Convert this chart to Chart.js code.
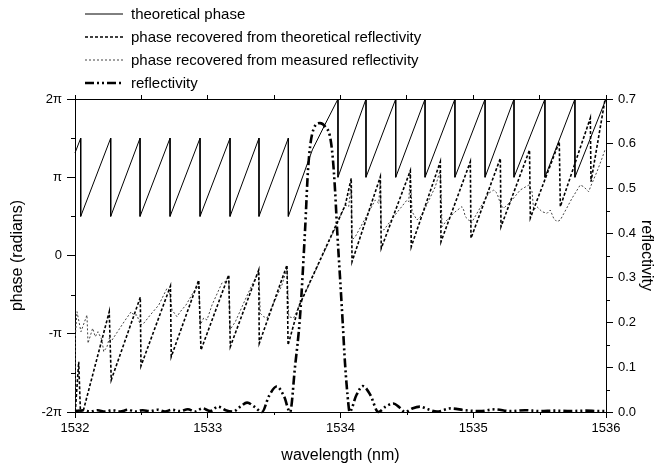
<!DOCTYPE html>
<html><head><meta charset="utf-8">
<script src="https://cdn.jsdelivr.net/npm/chart.js@4.4.1/dist/chart.umd.min.js"></script>
<style>html,body{margin:0;padding:0;background:#fff;}#wrap{width:660px;height:471px;}</style>
</head><body><div id="wrap"><canvas id="c" width="660" height="471"></canvas></div>
<script>
// ---- data (wavelength in nm, phase in units of pi, reflectivity 0..1) ----
const seriesLabels = ['theoretical phase', 'phase recovered from theoretical reflectivity', 'phase recovered from measured reflectivity', 'reflectivity'];
const xTickLabels = ['1532', '1533', '1534', '1535', '1536'];
const phaseTickLabels = ['-2\u03c0', '-\u03c0', '0', '\u03c0', '2\u03c0'];
const reflTickLabels = ['0.0', '0.1', '0.2', '0.3', '0.4', '0.5', '0.6', '0.7'];

const theoWl = [1532.000, 1532.043, 1532.043, 1532.269, 1532.269, 1532.490, 1532.490, 1532.716, 1532.716, 1532.942, 1532.942, 1533.168, 1533.168, 1533.386, 1533.386, 1533.607, 1533.607, 1533.788, 1533.885, 1533.981, 1533.981, 1534.192, 1534.192, 1534.416, 1534.416, 1534.637, 1534.637, 1534.862, 1534.862, 1535.089, 1535.089, 1535.307, 1535.307, 1535.540, 1535.540, 1535.766, 1535.766, 1536.000];
const theoPhase = [1.31, 1.5, 0.5, 1.5, 0.5, 1.5, 0.5, 1.5, 0.5, 1.5, 0.5, 1.5, 0.5, 1.5, 0.5, 1.5, 0.5, 1.35, 1.68, 2.0, 1.0, 2.0, 1.0, 2.0, 1.0, 2.0, 1.0, 2.0, 1.0, 2.0, 1.0, 2.0, 1.0, 2.0, 1.0, 2.0, 1.0, 2.0];

const trWl = [1532.002, 1532.028, 1532.041, 1532.060, 1532.258, 1532.273, 1532.492, 1532.497, 1532.719, 1532.725, 1532.932, 1532.949, 1533.158, 1533.170, 1533.384, 1533.388, 1533.597, 1533.605, 1533.685, 1533.961, 1534.036, 1534.081, 1534.087, 1534.300, 1534.307, 1534.526, 1534.533, 1534.752, 1534.757, 1534.978, 1534.983, 1535.204, 1535.209, 1535.424, 1535.430, 1535.648, 1535.656, 1535.882, 1535.887, 1535.992];
const trPhase = [-2.0, -1.357, -2.0, -2.0, -0.718, -1.591, -0.534, -1.412, -0.39, -1.293, -0.313, -1.208, -0.249, -1.165, -0.185, -1.122, -0.121, -1.144, -0.654, 0.368, 0.645, 0.987, -0.079, 1.007, 0.092, 1.084, 0.112, 1.199, 0.176, 1.199, 0.220, 1.242, 0.368, 1.348, 0.479, 1.454, 0.624, 1.757, 0.943, 1.987];

const mrWl = [1532.000, 1532.002, 1532.015, 1532.045, 1532.090, 1532.098, 1532.133, 1532.153, 1532.173, 1532.203,
  1532.216, 1532.241, 1532.258, 1532.279, 1532.329, 1532.379, 1532.424, 1532.442, 1532.467, 1532.492,
  1532.518, 1532.567, 1532.631, 1532.693, 1532.710, 1532.731, 1532.768, 1532.793, 1532.836, 1532.894,
  1532.919, 1532.932, 1532.944, 1532.969, 1532.994, 1533.032, 1533.107, 1533.132, 1533.158, 1533.168,
  1533.183, 1533.208, 1533.281, 1533.333, 1533.384, 1533.396, 1533.421, 1533.446, 1533.507, 1533.559,
  1533.597, 1533.610, 1533.647, 1533.685, 1533.961, 1534.036, 1534.062, 1534.081, 1534.087, 1534.111,
  1534.147, 1534.262, 1534.288, 1534.300, 1534.307, 1534.326, 1534.411, 1534.501, 1534.514, 1534.526,
  1534.539, 1534.576, 1534.614, 1534.714, 1534.752, 1534.765, 1534.802, 1534.862, 1534.915, 1534.928,
  1534.940, 1534.966, 1534.985, 1535.051, 1535.116, 1535.154, 1535.179, 1535.208, 1535.229, 1535.292,
  1535.354, 1535.418, 1535.443, 1535.455, 1535.480, 1535.518, 1535.556, 1535.580, 1535.606, 1535.631,
  1535.656, 1535.744, 1535.806, 1535.832, 1535.869, 1535.889, 1535.932, 1535.970, 1535.992];
const mrPhase = [-2.000, -1.042, -0.718, -0.974, -0.760, -1.122, -0.930, -1.038, -0.974, -1.080,
  -1.229, -1.166, -1.058, -1.080, -0.952, -0.824, -0.718, -0.760, -0.760, -0.888,
  -0.866, -0.760, -0.633, -0.419, -0.441, -0.696, -0.782, -0.718, -0.633, -0.463,
  -0.415, -0.339, -0.888, -0.799, -0.824, -0.633, -0.351, -0.335, -0.262, -0.952,
  -0.910, -0.846, -0.569, -0.377, -0.211, -0.739, -0.782, -0.799, -0.569, -0.377,
  -0.160, -0.782, -0.799, -0.658, 0.351, 0.645, 0.624, 0.939, 0.198, 0.240,
  0.351, 0.709, 0.667, 0.965, 0.348, 0.326, 0.518, 0.709, 0.688, 1.042,
  0.560, 0.454, 0.518, 0.879, 1.093, 0.368, 0.454, 0.556, 0.624, 0.581,
  0.496, 0.454, 0.412, 0.607, 0.795, 0.837, 0.795, 0.645, 0.603, 0.709,
  0.837, 0.901, 0.815, 0.581, 0.624, 0.560, 0.539, 0.581, 0.475, 0.432,
  0.454, 0.731, 0.901, 0.879, 0.815, 0.901, 1.071, 1.242, 1.348];

const reflWl = [1532.000, 1532.060, 1532.113, 1532.170, 1532.226, 1532.280, 1532.339, 1532.400, 1532.452, 1532.510,
  1532.565, 1532.620, 1532.678, 1532.730, 1532.791, 1532.850, 1532.904, 1532.960, 1533.020, 1533.077,
  1533.135, 1533.190, 1533.245, 1533.296, 1533.350, 1533.409, 1533.460, 1533.519, 1533.575, 1533.620,
  1533.657, 1533.695, 1533.733, 1533.757, 1533.795, 1533.846, 1533.885, 1533.921, 1533.941, 1533.959,
  1533.976, 1533.996, 1534.017, 1534.034, 1534.059, 1534.068, 1534.120, 1534.169, 1534.225, 1534.285,
  1534.340, 1534.398, 1534.445, 1534.486, 1534.540, 1534.599, 1534.660, 1534.727, 1534.830, 1534.938,
  1535.050, 1535.164, 1535.277, 1535.390, 1535.503, 1535.616, 1535.729, 1535.842, 1535.950, 1536.000];
const reflectivity = [0.002, 0.004, 0.001, 0.004, 0.001, 0.004, 0.001, 0.005, 0.001, 0.004,
  0.002, 0.005, 0.001, 0.005, 0.002, 0.006, 0.001, 0.008, 0.002, 0.012,
  0.004, 0.001, 0.012, 0.021, 0.012, 0.000, 0.035, 0.057, 0.035, 0.000,
  0.100, 0.213, 0.407, 0.549, 0.631, 0.646, 0.638, 0.616, 0.571, 0.496,
  0.400, 0.303, 0.198, 0.109, 0.019, 0.000, 0.038, 0.058, 0.038, 0.000,
  0.012, 0.019, 0.010, 0.000, 0.008, 0.012, 0.006, 0.001, 0.008, 0.004,
  0.002, 0.006, 0.002, 0.004, 0.002, 0.003, 0.002, 0.003, 0.002, 0.002];

const xMinor = [1532.5, 1533.5, 1534.5, 1535.5];
const phaseMinor = [-1.5, -0.5, 0.5, 1.5];
const reflMinor = [0.05, 0.15, 0.25, 0.35, 0.45, 0.55, 0.65];

// ---- helpers ----
const pts = (xs, ys) => xs.map((x, i) => ({x: x, y: ys[i]}));
const FONT = "'Liberation Sans', Arial, Helvetica, sans-serif";
Chart.defaults.font.family = FONT;
Chart.defaults.color = '#000';

const stackedLegend = {
  id: 'stackedLegend',
  afterDraw(chart) {
    const ctx = chart.ctx;
    ctx.save();
    ctx.font = '15px ' + FONT;
    ctx.textBaseline = 'middle';
    ctx.textAlign = 'left';
    chart.data.datasets.forEach((ds, i) => {
      const yy = 14 + i * 23;
      ctx.beginPath();
      ctx.setLineDash(ds.borderDash || []);
      ctx.lineWidth = ds.borderWidth;
      ctx.strokeStyle = ds.borderColor;
      ctx.moveTo(85, yy);
      ctx.lineTo(123, yy);
      ctx.stroke();
      ctx.setLineDash([]);
      ctx.fillStyle = '#000';
      ctx.fillText(ds.label, 131, yy + 1);
    });
    ctx.restore();
  }
};

const minorTicks = {
  id: 'minorTicks',
  afterDraw(chart) {
    const ctx = chart.ctx;
    const {x, y, y2} = chart.scales;
    ctx.save();
    ctx.strokeStyle = '#000';
    ctx.lineWidth = 1;
    ctx.beginPath();
    xMinor.forEach(v => { const p = Math.round(x.getPixelForValue(v)) + 0.5; ctx.moveTo(p, x.top); ctx.lineTo(p, x.top + 3); });
    phaseMinor.forEach(v => { const p = Math.round(y.getPixelForValue(v)) + 0.5; ctx.moveTo(y.right, p); ctx.lineTo(y.right - 4, p); });
    reflMinor.forEach(v => { const p = Math.round(y2.getPixelForValue(v)) + 0.5; ctx.moveTo(y2.left, p); ctx.lineTo(y2.left + 4, p); });
    ctx.stroke();
    ctx.restore();
  }
};

new Chart(document.getElementById('c'), {
  type: 'line',
  data: {
    datasets: [
      {label: seriesLabels[0], data: pts(theoWl, theoPhase), yAxisID: 'y', borderColor: '#000', borderWidth: 1, pointRadius: 0, tension: 0, clip: 2},
      {label: seriesLabels[1], data: pts(trWl, trPhase), yAxisID: 'y', borderColor: '#000', borderWidth: 1.6, borderDash: [3, 2], pointRadius: 0, tension: 0},
      {label: seriesLabels[2], data: pts(mrWl, mrPhase), yAxisID: 'y', borderColor: '#444', borderWidth: 1, borderDash: [2, 2], pointRadius: 0, tension: 0},
      {label: seriesLabels[3], data: pts(reflWl, reflectivity), yAxisID: 'y2', borderColor: '#000', borderWidth: 2.6, borderDash: [9, 3, 2, 3, 2, 3], pointRadius: 0, cubicInterpolationMode: 'monotone', clip: 3}
    ]
  },
  options: {
    responsive: false,
    animation: false,
    devicePixelRatio: 1,
    layout: {padding: 0},
    plugins: {legend: {display: false}, tooltip: {enabled: false}},
    scales: {
      x: {
        type: 'linear', position: 'bottom', min: 1532, max: 1536,
        ticks: {stepSize: 1, autoSkip: false, maxRotation: 0, padding: 3, font: {size: 13}, color: '#000',
                callback: (v, i) => xTickLabels[i]},
        grid: {drawOnChartArea: false, tickLength: 6, tickColor: '#000', color: '#000'},
        border: {display: true, color: '#000', width: 1},
        title: {display: true, text: 'wavelength (nm)', font: {size: 16}, color: '#000', padding: {top: 4, bottom: 6}},
        afterFit: s => { s.height = 59; }
      },
      x2: {
        type: 'linear', position: 'top', min: 1532, max: 1536,
        ticks: {display: false, stepSize: 0.5},
        grid: {drawOnChartArea: false, tickLength: 4, tickColor: '#000', color: '#000'},
        border: {display: true, color: '#000', width: 1},
        afterFit: s => { s.height = 99; }
      },
      y: {
        type: 'linear', position: 'left', min: -2, max: 2,
        ticks: {stepSize: 1, autoSkip: false, padding: 5, font: {size: 13}, color: '#000',
                callback: (v, i) => phaseTickLabels[i]},
        grid: {drawOnChartArea: false, tickLength: 8, tickColor: '#000', color: '#000'},
        border: {display: true, color: '#000', width: 1},
        title: {display: true, text: 'phase (radians)', font: {size: 16}, color: '#000', padding: {top: 8, bottom: 4}},
        afterFit: s => { s.width = 75; }
      },
      y2: {
        type: 'linear', position: 'right', min: 0, max: 0.7,
        ticks: {stepSize: 0.1, autoSkip: false, padding: 5, font: {size: 13}, color: '#000',
                callback: (v, i) => reflTickLabels[i]},
        grid: {drawOnChartArea: false, tickLength: 7, tickColor: '#000', color: '#000'},
        border: {display: true, color: '#000', width: 1},
        title: {display: true, text: 'reflectivity', font: {size: 16}, color: '#000', padding: {top: 4, bottom: 4}},
        afterFit: s => { s.width = 54; }
      }
    }
  },
  plugins: [stackedLegend, minorTicks]
});
</script></body></html>
